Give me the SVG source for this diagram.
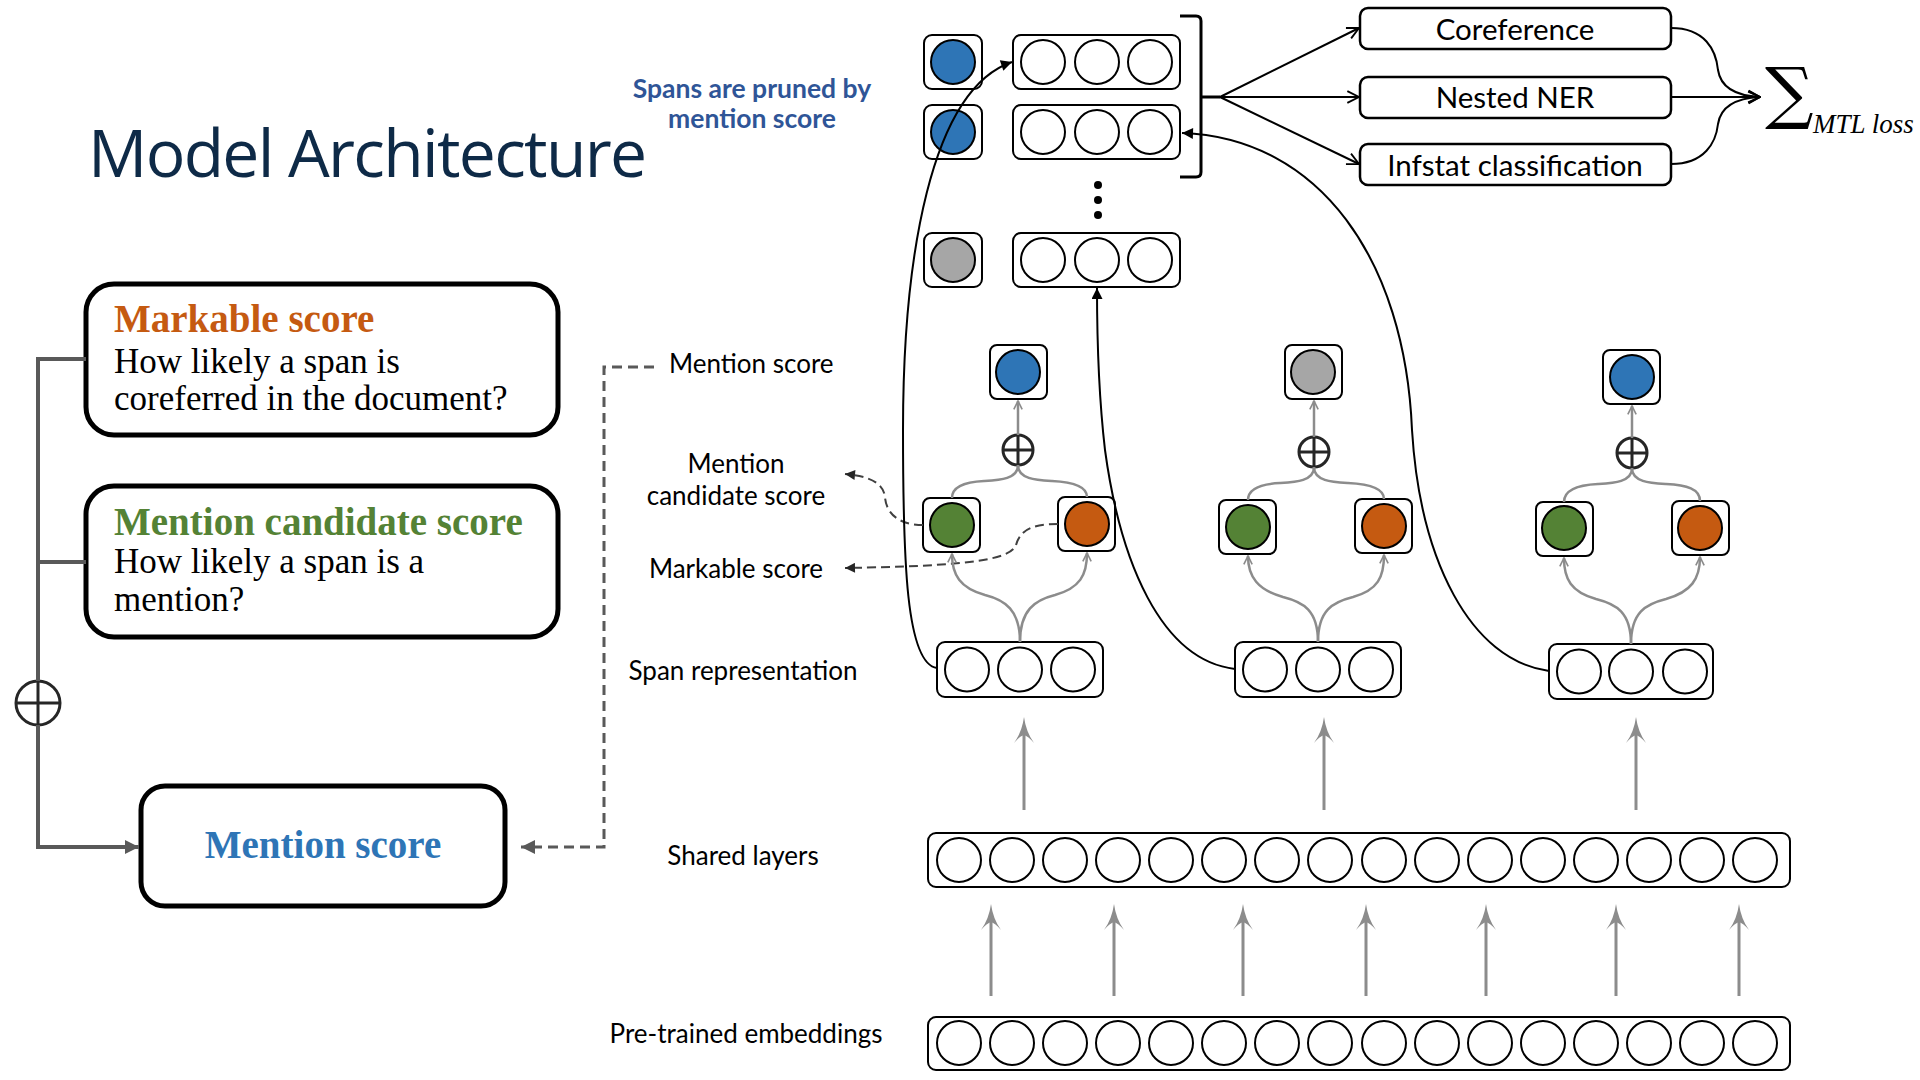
<svg xmlns="http://www.w3.org/2000/svg" width="1920" height="1080" viewBox="0 0 1920 1080">
  <style>
    .bg { fill: #ffffff; }
    .title { font-family: "Open Sans", "Liberation Sans", sans-serif; font-size: 66px; fill: #0e2a47; }
    .note { font-family: Lato, "Liberation Sans", sans-serif; font-weight: bold; font-size: 26.5px; fill: #2f5597; }
    .lbl { font-family: Lato, "Liberation Sans", sans-serif; font-size: 26px; fill: #000000; }
    .task { font-family: Lato, "Liberation Sans", sans-serif; font-size: 29.5px; fill: #000000; }
    .head { font-family: "Liberation Serif", "DejaVu Serif", serif; font-weight: bold; font-size: 39px; }
    .body { font-family: "Liberation Serif", "DejaVu Serif", serif; font-size: 35px; fill: #000000; }
    .math { font-family: "Liberation Serif", "DejaVu Serif", serif; font-style: italic; font-size: 27px; fill: #000000; }
    .card { fill: #ffffff; stroke: #000000; stroke-width: 5; }
    .cell { fill: #ffffff; stroke: #000000; stroke-width: 2; }
    .unit { fill: #ffffff; stroke: #000000; stroke-width: 2; }
    .blue { fill: #2e75b6; stroke: #000000; stroke-width: 2; }
    .green { fill: #548235; stroke: #000000; stroke-width: 2; }
    .orange { fill: #c55a11; stroke: #000000; stroke-width: 2; }
    .grey { fill: #a6a6a6; stroke: #000000; stroke-width: 2; }
    .taskbox { fill: #ffffff; stroke: #000000; stroke-width: 2.5; }
    .plus { fill: #ffffff; stroke: #262626; stroke-width: 3; }
    .plus-line { stroke: #262626; stroke-width: 3; }
    .thin { fill: none; stroke: #000000; stroke-width: 2; }
    .flow { fill: none; stroke: #8c8c8c; stroke-width: 2.5; }
    .up { fill: none; stroke: #8c8c8c; stroke-width: 3; }
    .uphead { fill: #8c8c8c; }
    .dash { fill: none; stroke: #404040; stroke-width: 2; stroke-dasharray: 9 5; }
    .side { fill: none; stroke: #595959; stroke-width: 4; }
    .side-dash { fill: none; stroke: #595959; stroke-width: 3; stroke-dasharray: 10 6; }
  </style>
  <defs>
    <marker id="ah-solid" viewBox="0 0 10 10" refX="10" refY="5" markerWidth="13" markerHeight="11" markerUnits="userSpaceOnUse" orient="auto">
      <path d="M0,0 L10,5 L0,10 z" fill="#000000"/>
    </marker>
    <marker id="ah-open" viewBox="0 0 12 12" refX="11" refY="6" markerWidth="14" markerHeight="14" markerUnits="userSpaceOnUse" orient="auto">
      <path d="M1,1 L11,6 L1,11" fill="none" stroke="#000000" stroke-width="1.6"/>
    </marker>
    <marker id="ah-grey" viewBox="0 0 12 12" refX="11" refY="6" markerWidth="10" markerHeight="10" markerUnits="userSpaceOnUse" orient="auto">
      <path d="M1,1 L11,6 L1,11" fill="none" stroke="#8c8c8c" stroke-width="2"/>
    </marker>
    <marker id="ah-dash" viewBox="0 0 10 10" refX="10" refY="5" markerWidth="11" markerHeight="10" markerUnits="userSpaceOnUse" orient="auto">
      <path d="M0,0 L10,5 L0,10 z" fill="#262626"/>
    </marker>
    <marker id="ah-side" viewBox="0 0 10 10" refX="10" refY="5" markerWidth="14" markerHeight="18" markerUnits="userSpaceOnUse" orient="auto">
      <path d="M0,0 L10,5 L0,10 z" fill="#595959"/>
    </marker>
    <!-- barbed arrowhead for the vertical feed arrows, tip at 0,0 -->
    <path id="barb" d="M0,0 Q2,15 10,26 Q4,19 0,18 Q-4,19 -10,26 Q-2,15 0,0 z"/>
  </defs>

  <rect class="bg" x="0" y="0" width="1920" height="1080"/>

  <!-- heading and annotation -->
  <text id="title" class="title" x="88" y="177" textLength="559">Model Architecture</text>
  <g id="prune-note" text-anchor="middle">
    <text class="note" x="752" y="98">Spans are pruned by</text>
    <text class="note" x="752" y="128">mention score</text>
  </g>

  <!-- left-hand explanation cards -->
  <g id="card-markable">
    <rect class="card" x="86" y="284" width="472" height="151" rx="28"/>
    <text class="head" x="114" y="332" fill="#c55a11">Markable score</text>
    <text class="body" x="114" y="373">How likely a span is</text>
    <text class="body" x="114" y="410">coreferred in the document?</text>
  </g>
  <g id="card-candidate">
    <rect class="card" x="86" y="486" width="472" height="151" rx="28"/>
    <text class="head" x="114" y="535" fill="#548235">Mention candidate score</text>
    <text class="body" x="114" y="573">How likely a span is a</text>
    <text class="body" x="114" y="611">mention?</text>
  </g>
  <g id="card-mention">
    <rect class="card" x="141" y="786" width="364" height="120" rx="24"/>
    <text class="head" x="323" y="858" fill="#2e75b6" text-anchor="middle" font-size="40">Mention score</text>
  </g>
  <g id="sum-left">
    <circle class="plus" cx="38" cy="703" r="22" stroke-width="4"/>
    <path class="plus-line" d="M16,703 H60 M38,681 V725" stroke-width="4"/>
  </g>

  <!-- side labels -->
  <g id="labels" class="lbl">
    <text x="669" y="373">Mention score</text>
    <text x="736" y="473" text-anchor="middle">Mention</text>
    <text x="736" y="505" text-anchor="middle">candidate score</text>
    <text x="736" y="578" text-anchor="middle">Markable score</text>
    <text x="743" y="680" text-anchor="middle">Span representation</text>
    <text x="743" y="865" text-anchor="middle">Shared layers</text>
    <text x="746" y="1043" text-anchor="middle">Pre-trained embeddings</text>
  </g>

  <!-- pruned span rows -->
  <g id="row-1">
    <rect class="cell" x="924" y="35" width="58" height="54" rx="8"/>
    <circle class="blue" cx="953" cy="62" r="22"/>
    <rect class="cell" x="1013" y="35" width="167" height="54" rx="8"/>
    <circle class="unit" cx="1043" cy="62" r="22"/>
    <circle class="unit" cx="1097" cy="62" r="22"/>
    <circle class="unit" cx="1150" cy="62" r="22"/>
  </g>
  <g id="row-2">
    <rect class="cell" x="924" y="105" width="58" height="54" rx="8"/>
    <circle class="blue" cx="953" cy="132" r="22"/>
    <rect class="cell" x="1013" y="105" width="167" height="54" rx="8"/>
    <circle class="unit" cx="1043" cy="132" r="22"/>
    <circle class="unit" cx="1097" cy="132" r="22"/>
    <circle class="unit" cx="1150" cy="132" r="22"/>
  </g>
  <g id="row-ellipsis" fill="#000000">
    <circle cx="1098" cy="185" r="4"/>
    <circle cx="1098" cy="200" r="4"/>
    <circle cx="1098" cy="215" r="4"/>
  </g>
  <g id="row-3">
    <rect class="cell" x="924" y="233" width="58" height="54" rx="8"/>
    <circle class="grey" cx="953" cy="260" r="22"/>
    <rect class="cell" x="1013" y="233" width="167" height="54" rx="8"/>
    <circle class="unit" cx="1043" cy="260" r="22"/>
    <circle class="unit" cx="1097" cy="260" r="22"/>
    <circle class="unit" cx="1150" cy="260" r="22"/>
  </g>
  <g id="bracket">
    <path d="M1180,16 H1196 Q1201,16 1201,21 V97 H1220 M1201,97 V172 Q1201,177 1196,177 H1180" fill="none" stroke="#000000" stroke-width="3"/>
  </g>

  <!-- task heads -->
  <g id="task-coref">
    <rect class="taskbox" x="1360" y="8" width="311" height="41" rx="8"/>
    <text class="task" x="1515" y="40" text-anchor="middle">Coreference</text>
  </g>
  <g id="task-ner">
    <rect class="taskbox" x="1360" y="77" width="311" height="41" rx="8"/>
    <text class="task" x="1515" y="108" text-anchor="middle">Nested NER</text>
  </g>
  <g id="task-infstat">
    <rect class="taskbox" x="1360" y="144" width="311" height="41" rx="8"/>
    <text class="task" x="1515" y="176" text-anchor="middle">Infstat classification</text>
  </g>
  <g id="loss">
    <text x="1765" y="116" font-family="DejaVu Serif, serif" font-size="68" fill="#000000">∑</text>
    <text class="math" x="1813" y="133">MTL loss</text>
  </g>

  <!-- per-span scoring columns -->
  <g id="column-1" transform="translate(1020,0)">
    <rect class="cell" x="-30" y="345" width="57" height="54" rx="7"/>
    <circle class="blue" cx="-2" cy="372" r="22"/>
    <circle class="plus" cx="-2" cy="450" r="15"/>
    <path class="plus-line" d="M-17,450 H13 M-2,435 V465"/>
    <rect class="cell" x="-97" y="498" width="57" height="54" rx="7"/>
    <circle class="green" cx="-68" cy="525" r="22"/>
    <rect class="cell" x="38" y="497" width="57" height="54" rx="7"/>
    <circle class="orange" cx="67" cy="524" r="22"/>
    <rect class="cell" x="-83" y="642" width="166" height="55" rx="8"/>
    <circle class="unit" cx="-53" cy="669.5" r="22"/>
    <circle class="unit" cx="0" cy="669.5" r="22"/>
    <circle class="unit" cx="53" cy="669.5" r="22"/>
  </g>
  <g id="column-2" transform="translate(1318,2)">
    <rect class="cell" x="-33" y="343" width="57" height="54" rx="7"/>
    <circle class="grey" cx="-5" cy="370" r="22"/>
    <circle class="plus" cx="-4" cy="450" r="15"/>
    <path class="plus-line" d="M-19,450 H11 M-4,435 V465"/>
    <rect class="cell" x="-99" y="498" width="57" height="54" rx="7"/>
    <circle class="green" cx="-70" cy="525" r="22"/>
    <rect class="cell" x="37" y="497" width="57" height="54" rx="7"/>
    <circle class="orange" cx="66" cy="524" r="22"/>
    <rect class="cell" x="-83" y="640" width="166" height="55" rx="8"/>
    <circle class="unit" cx="-53" cy="667.5" r="22"/>
    <circle class="unit" cx="0" cy="667.5" r="22"/>
    <circle class="unit" cx="53" cy="667.5" r="22"/>
  </g>
  <g id="column-3" transform="translate(1631,3)">
    <rect class="cell" x="-28" y="347" width="57" height="54" rx="7"/>
    <circle class="blue" cx="1" cy="374" r="22"/>
    <circle class="plus" cx="1" cy="450" r="15"/>
    <path class="plus-line" d="M-14,450 H16 M1,435 V465"/>
    <rect class="cell" x="-95" y="499" width="57" height="54" rx="7"/>
    <circle class="green" cx="-67" cy="525" r="22"/>
    <rect class="cell" x="41" y="498" width="57" height="54" rx="7"/>
    <circle class="orange" cx="69" cy="525" r="22"/>
    <rect class="cell" x="-82" y="641" width="164" height="55" rx="8"/>
    <circle class="unit" cx="-52" cy="668.5" r="22"/>
    <circle class="unit" cx="0" cy="668.5" r="22"/>
    <circle class="unit" cx="54" cy="668.5" r="22"/>
  </g>

  <!-- shared encoder and embeddings -->
  <g id="shared-layers">
    <rect class="cell" x="928" y="833" width="862" height="54" rx="8"/>
    <g class="unit">
      <circle cx="959" cy="860" r="22"/><circle cx="1012" cy="860" r="22"/><circle cx="1065" cy="860" r="22"/><circle cx="1118" cy="860" r="22"/>
      <circle cx="1171" cy="860" r="22"/><circle cx="1224" cy="860" r="22"/><circle cx="1277" cy="860" r="22"/><circle cx="1330" cy="860" r="22"/>
      <circle cx="1384" cy="860" r="22"/><circle cx="1437" cy="860" r="22"/><circle cx="1490" cy="860" r="22"/><circle cx="1543" cy="860" r="22"/>
      <circle cx="1596" cy="860" r="22"/><circle cx="1649" cy="860" r="22"/><circle cx="1702" cy="860" r="22"/><circle cx="1755" cy="860" r="22"/>
    </g>
  </g>
  <g id="embeddings">
    <rect class="cell" x="928" y="1017" width="862" height="53" rx="8"/>
    <g class="unit">
      <circle cx="959" cy="1043" r="22"/><circle cx="1012" cy="1043" r="22"/><circle cx="1065" cy="1043" r="22"/><circle cx="1118" cy="1043" r="22"/>
      <circle cx="1171" cy="1043" r="22"/><circle cx="1224" cy="1043" r="22"/><circle cx="1277" cy="1043" r="22"/><circle cx="1330" cy="1043" r="22"/>
      <circle cx="1384" cy="1043" r="22"/><circle cx="1437" cy="1043" r="22"/><circle cx="1490" cy="1043" r="22"/><circle cx="1543" cy="1043" r="22"/>
      <circle cx="1596" cy="1043" r="22"/><circle cx="1649" cy="1043" r="22"/><circle cx="1702" cy="1043" r="22"/><circle cx="1755" cy="1043" r="22"/>
    </g>
  </g>

  <g id="connectors">
    <!-- left-hand combination into the mention score -->
    <path class="side" d="M86,359 H38 V681"/>
    <path class="side" d="M86,562 H38"/>
    <path class="side" d="M38,725 V847 H139" marker-end="url(#ah-side)"/>
    <path class="side-dash" d="M654,367 H604 V847 H521" marker-end="url(#ah-side)"/>

    <!-- score call-outs -->
    <path class="dash" d="M923,525 C897,525 886,512 885,497 C883,481 866,476 845,474" marker-end="url(#ah-dash)"/>
    <path class="dash" d="M1058,524 C1030,524 1020,531 1016,545 C1010,561 960,566 845,568" marker-end="url(#ah-dash)"/>

    <!-- flows inside each scoring column -->
    <g transform="translate(1020,0)">
      <path class="flow" d="M-2,435 V401" marker-end="url(#ah-grey)"/>
      <path class="flow" d="M-2,465 C-2,479 -20,480 -36,481 C-57,482 -68,487 -68,498"/>
      <path class="flow" d="M-2,465 C-2,479 16,480 32,481 C53,482 67,486 67,497"/>
      <path class="flow" d="M0,642 C0,610 -15,600 -35,595 C-60,588 -68,575 -68,554" marker-end="url(#ah-grey)"/>
      <path class="flow" d="M0,642 C0,610 15,600 35,595 C60,588 67,575 67,553" marker-end="url(#ah-grey)"/>
      <path class="up" d="M4,810 V730"/>
      <use href="#barb" class="uphead" x="4" y="717"/>
    </g>
    <g transform="translate(1318,2)">
      <path class="flow" d="M-4,435 V399" marker-end="url(#ah-grey)"/>
      <path class="flow" d="M-4,465 C-4,479 -22,480 -38,481 C-59,482 -70,487 -70,498"/>
      <path class="flow" d="M-4,465 C-4,479 14,480 30,481 C51,482 66,486 66,497"/>
      <path class="flow" d="M0,640 C0,608 -15,600 -35,595 C-60,588 -70,575 -70,554" marker-end="url(#ah-grey)"/>
      <path class="flow" d="M0,640 C0,608 15,600 35,595 C60,588 66,575 66,553" marker-end="url(#ah-grey)"/>
      <path class="up" d="M6,808 V728"/>
      <use href="#barb" class="uphead" x="6" y="715"/>
    </g>
    <g transform="translate(1631,3)">
      <path class="flow" d="M1,435 V403" marker-end="url(#ah-grey)"/>
      <path class="flow" d="M1,465 C1,479 -17,480 -33,481 C-54,482 -67,487 -67,499"/>
      <path class="flow" d="M1,465 C1,479 19,480 35,481 C56,482 69,486 69,498"/>
      <path class="flow" d="M0,641 C0,609 -15,601 -35,596 C-60,589 -67,576 -67,555" marker-end="url(#ah-grey)"/>
      <path class="flow" d="M0,641 C0,609 15,601 35,596 C60,589 69,576 69,554" marker-end="url(#ah-grey)"/>
      <path class="up" d="M5,807 V727"/>
      <use href="#barb" class="uphead" x="5" y="714"/>
    </g>

    <!-- embeddings feed the shared layers -->
    <g>
      <path class="up" d="M991,996 V916 M1114,996 V916 M1243,996 V916 M1366,996 V916 M1486,996 V916 M1616,996 V916 M1739,996 V916"/>
      <use href="#barb" class="uphead" x="991" y="904"/>
      <use href="#barb" class="uphead" x="1114" y="904"/>
      <use href="#barb" class="uphead" x="1243" y="904"/>
      <use href="#barb" class="uphead" x="1366" y="904"/>
      <use href="#barb" class="uphead" x="1486" y="904"/>
      <use href="#barb" class="uphead" x="1616" y="904"/>
      <use href="#barb" class="uphead" x="1739" y="904"/>
    </g>

    <!-- kept spans routed to the pruned list -->
    <path class="thin" d="M937,668 C906,664 903,560 903,430 C903,260 930,90 1012,62" marker-end="url(#ah-solid)"/>
    <path class="thin" d="M1235,669 C1160,660 1120,560 1105,450 C1098,390 1097,330 1097,288" marker-end="url(#ah-solid)"/>
    <path class="thin" d="M1549,671 C1470,660 1420,560 1412,430 C1405,260 1320,138 1182,133" marker-end="url(#ah-solid)"/>

    <!-- pruned spans to the task heads -->
    <path class="thin" d="M1220,97 L1359,28" marker-end="url(#ah-open)"/>
    <path class="thin" d="M1220,97 H1359" marker-end="url(#ah-open)"/>
    <path class="thin" d="M1220,97 L1359,164" marker-end="url(#ah-open)"/>

    <!-- task losses summed -->
    <path class="thin" stroke-width="1.6" d="M1671,28 C1705,28 1716,50 1718,70 C1721,90 1740,96 1760,97" marker-end="url(#ah-open)"/>
    <path class="thin" stroke-width="1.6" d="M1671,97 H1760" marker-end="url(#ah-open)"/>
    <path class="thin" stroke-width="1.6" d="M1671,164 C1705,164 1716,142 1718,124 C1721,104 1740,98 1760,97" marker-end="url(#ah-open)"/>
  </g>
</svg>
